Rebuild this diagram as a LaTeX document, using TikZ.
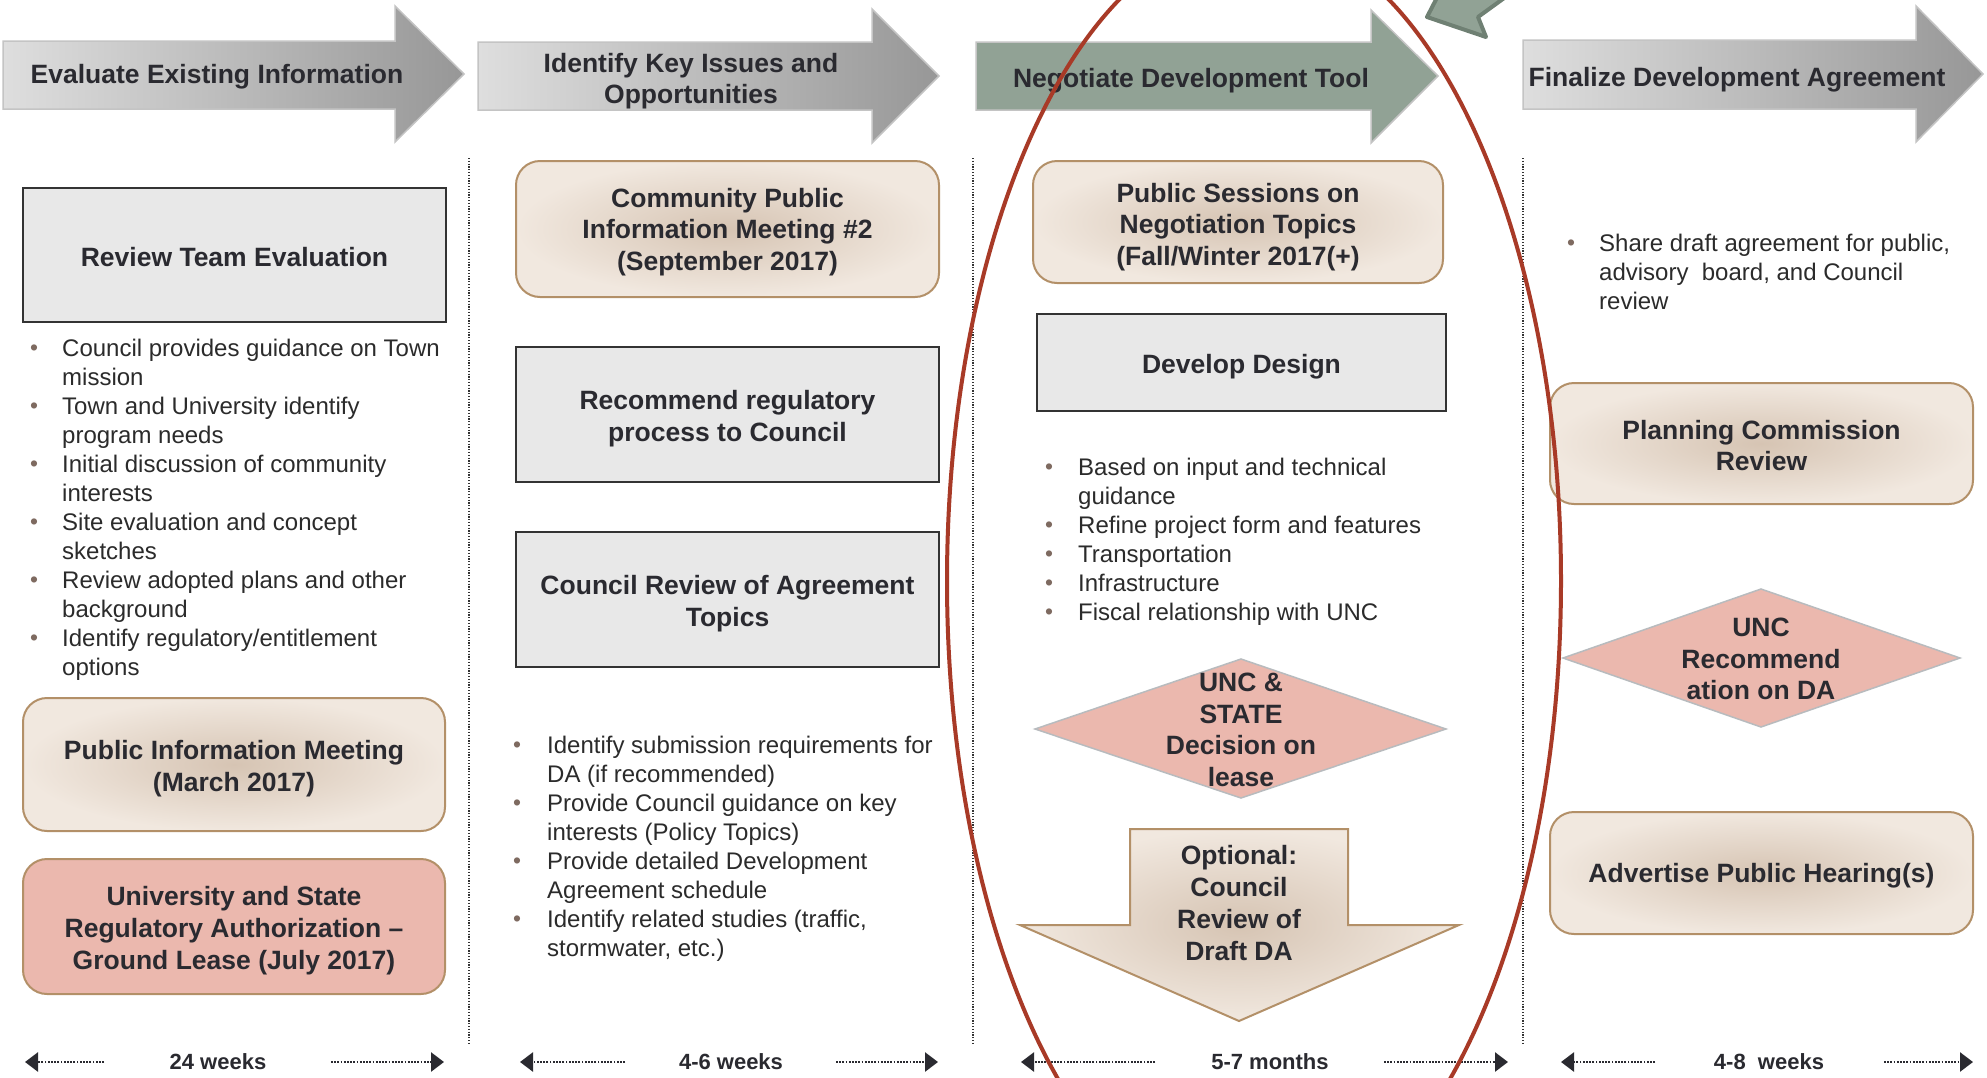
\documentclass[tikz,border=0pt]{standalone}
\usepackage{fontspec}
\setmainfont{Liberation Sans}
\usetikzlibrary{arrows.meta}
\definecolor{txt}{HTML}{2A2A30}
\definecolor{body}{HTML}{2B2B2B}
\definecolor{bulc}{HTML}{7E6A60}
\definecolor{grayfill}{HTML}{E8E8E8}
\definecolor{grayline}{HTML}{333333}
\definecolor{beigein}{HTML}{D6C4B3}
\definecolor{beigeout}{HTML}{F1E8DF}
\definecolor{beigeline}{HTML}{B39068}
\definecolor{pinkfill}{HTML}{EBB8AE}
\definecolor{diamline}{HTML}{B8BBBE}
\definecolor{hl}{HTML}{DEDEDE}
\definecolor{hr}{HTML}{979797}
\definecolor{hborder}{HTML}{C4C4C4}
\definecolor{greenfill}{HTML}{91A295}
\definecolor{greenline}{HTML}{6F8073}
\definecolor{ellred}{HTML}{A83A27}
\definecolor{tlc}{HTML}{2A2A30}
\newcommand{\bsym}{\textcolor{bulc}{\raisebox{0.5pt}{\scalebox{0.95}{•}}}}
\begin{document}
\begin{tikzpicture}[x=1pt,y=-1pt,
  bfont/.style={font=\fontsize{26.5}{31.7}\selectfont\bfseries, text=txt, align=center},
  graybox/.style={draw=grayline, line width=2.5pt, fill=grayfill, inner sep=0pt},
  beigebox/.style={draw=beigeline, line width=2pt, rounded corners=24pt, inner color=beigein, outer color=beigeout, inner sep=0pt},
  pinkbox/.style={draw=beigeline, line width=2pt, rounded corners=24pt, fill=pinkfill, inner sep=0pt},
  hdr/.style={left color=hl, right color=hr, draw=hborder, line width=1.5pt},
  hdrtext/.style={font=\fontsize{26.5}{31.7}\selectfont\bfseries, text=txt, align=center},
  bullets/.style={font=\fontsize{24}{29}\selectfont, text=body, inner sep=0pt, anchor=base west},
  sep/.style={draw=grayline, line width=1.2pt, dash pattern=on 1.2pt off 1.6pt},
  tl/.style={draw=tlc, line width=2.6pt, dash pattern=on 1.8pt off 1.4pt, -{Triangle[length=13pt,width=19pt]}},
  tltext/.style={font=\fontsize{22}{26}\selectfont\bfseries, text=txt},
  diam/.style={fill=pinkfill, draw=diamline, line width=1.5pt},
  downarr/.style={inner color=beigein, outer color=beigeout, draw=beigeline, line width=2pt}
]
\useasboundingbox (0,0) rectangle (1987,1077);
\clip (0,0) rectangle (1987,1077);
\fill[white] (0,0) rectangle (1987,1077);

% ---------- header arrows ----------
\shade[hdr] (3,41) -- (395,41) -- (395,6) -- (464,74) -- (395,142) -- (395,109) -- (3,109) -- cycle;
\node[hdrtext] (h1) at (217,77) {Evaluate Existing Information};
\shade[hdr] (478,42) -- (872,42) -- (872,9) -- (939,76) -- (872,143) -- (872,110) -- (478,110) -- cycle;
\node[hdrtext] (h2) at (691,81) {Identify Key Issues and\\Opportunities};
\filldraw[fill=greenfill, draw=hborder, line width=1.5pt] (976,42) -- (1371,42) -- (1371,10) -- (1438,76) -- (1371,143) -- (1371,110) -- (976,110) -- cycle;
\node[hdrtext] (h3) at (1191,81) {Negotiate Development Tool};
\shade[hdr] (1523,40) -- (1916,40) -- (1916,6) -- (1983,74) -- (1916,142) -- (1916,109) -- (1523,109) -- cycle;
\node[hdrtext] (h4) at (1737,80) {Finalize Development Agreement};

% partial green arrow at top
\filldraw[fill=greenfill, draw=greenline, line width=4pt, line join=round]
  (1442,-12) -- (1427,17) -- (1486,37) -- (1478,17) -- (1518,-12) -- cycle;

% ---------- separators ----------
\coordinate (s1a) at (469,158); \coordinate (s1b) at (469,1045);
\coordinate (s2a) at (973,158); \coordinate (s2b) at (973,1045);
\coordinate (s3a) at (1523,158); \coordinate (s3b) at (1523,1045);
\draw[sep] (s1a) -- (s1b);
\draw[sep] (s2a) -- (s2b);
\draw[sep] (s3a) -- (s3b);

% ---------- column 1 ----------
\node[graybox, minimum width=423pt, minimum height=134pt] (rte) at (234.5,255) {};
\node[bfont] (rte-t) at ([yshift=-2pt]rte.center) {Review Team Evaluation};
\node[bullets] (b1) at (30,356) {\begin{tabular}[t]{@{}p{32pt}@{}l@{}}
\bsym & Council provides guidance on Town\\
 & mission\\
\bsym & Town and University identify\\
 & program needs\\
\bsym & Initial discussion of community\\
 & interests\\
\bsym & Site evaluation and concept\\
 & sketches\\
\bsym & Review adopted plans and other\\
 & background\\
\bsym & Identify regulatory/entitlement\\
 & options
\end{tabular}};
\node[beigebox, minimum width=422pt, minimum height=133pt] (pim) at (234,764.5) {};
\node[bfont] (pim-t) at ([yshift=-4pt]pim.center) {Public Information Meeting\\(March 2017)};
\node[pinkbox, minimum width=422pt, minimum height=135pt] (usr) at (234,926.5) {};
\node[bfont] (usr-t) at ([yshift=-4pt]usr.center) {University and State\\Regulatory Authorization –\\Ground Lease (July 2017)};

% ---------- column 2 ----------
\node[beigebox, minimum width=423pt, minimum height=136pt] (cpim) at (727.5,229) {};
\node[bfont] (cpim-t) at ([yshift=-3pt]cpim.center) {Community Public\\Information Meeting \#2\\(September 2017)};
\node[graybox, minimum width=423pt, minimum height=135pt] (rrp) at (727.5,414.5) {};
\node[bfont] (rrp-t) at ([yshift=-4pt]rrp.center) {Recommend regulatory\\process to Council};
\node[graybox, minimum width=423pt, minimum height=135pt] (crat) at (727.5,599.5) {};
\node[bfont] (crat-t) at ([yshift=-4pt]crat.center) {Council Review of Agreement\\Topics};
\node[bullets] (b2) at (513,753) {\begin{tabular}[t]{@{}p{34pt}@{}l@{}}
\bsym & Identify submission requirements for\\
 & DA (if recommended)\\
\bsym & Provide Council guidance on key\\
 & interests (Policy Topics)\\
\bsym & Provide detailed Development\\
 & Agreement schedule\\
\bsym & Identify related studies (traffic,\\
 & stormwater, etc.)
\end{tabular}};

% ---------- column 3 ----------
\node[beigebox, minimum width=410pt, minimum height=122pt] (psnt) at (1238,222) {};
\node[bfont] (psnt-t) at ([yshift=-5pt]psnt.center) {Public Sessions on\\Negotiation Topics\\(Fall/Winter 2017(+)};
\node[graybox, minimum width=409pt, minimum height=97pt] (dd) at (1241.5,362.5) {};
\node[bfont] (dd-t) at ([yshift=-4pt]dd.center) {Develop Design};
\node[bullets] (b3) at (1045,475) {\begin{tabular}[t]{@{}p{33pt}@{}l@{}}
\bsym & Based on input and technical\\
 & guidance\\
\bsym & Refine project form and features\\
\bsym & Transportation\\
\bsym & Infrastructure\\
\bsym & Fiscal relationship with UNC
\end{tabular}};
\path[diam] (1035,729) -- (1241,659) -- (1446,729) -- (1241,798) -- cycle;
\node[bfont] (unc1) at (1241,730) {UNC \&\\STATE\\Decision on\\lease};
\shade[downarr] (1130,829) -- (1348,829) -- (1348,925) -- (1459,925) -- (1239,1021) -- (1020,925) -- (1130,925) -- cycle;
\node[bfont] (opt) at (1239,903) {Optional:\\Council\\Review of\\Draft DA};

% ---------- column 4 ----------
\node[bullets] (b4) at (1567,251) {\begin{tabular}[t]{@{}p{32pt}@{}l@{}}
\bsym & Share draft agreement for public,\\
 & advisory\ \ board, and Council\\
 & review
\end{tabular}};
\node[beigebox, minimum width=423pt, minimum height=121pt] (pcr) at (1761.5,443.5) {};
\node[bfont] (pcr-t) at ([yshift=-2pt]pcr.center) {Planning Commission\\Review};
\path[diam] (1563,658) -- (1761,589) -- (1960,658) -- (1761,727) -- cycle;
\node[bfont] (unc2) at (1761,659) {UNC\\Recommend\\ation on DA};
\node[beigebox, minimum width=423pt, minimum height=122pt] (aph) at (1761.5,873) {};
\node[bfont] (aph-t) at ([yshift=-3pt]aph.center) {Advertise Public Hearing(s)};

% ---------- timelines ----------
\coordinate (t1a) at (25,1062); \coordinate (t1b) at (104,1062);
\coordinate (t1c) at (331,1062); \coordinate (t1d) at (444,1062);
\node[tltext] (t1) at (218,1062) {24 weeks};
\draw[tl] (t1b) -- (t1a); \draw[tl] (t1c) -- (t1d);

\coordinate (t2a) at (520,1062); \coordinate (t2b) at (625,1062);
\coordinate (t2c) at (836,1062); \coordinate (t2d) at (938,1062);
\node[tltext] (t2) at (731,1062) {4-6 weeks};
\draw[tl] (t2b) -- (t2a); \draw[tl] (t2c) -- (t2d);

\coordinate (t3a) at (1021,1062); \coordinate (t3b) at (1155,1062);
\coordinate (t3c) at (1384,1062); \coordinate (t3d) at (1508,1062);
\node[tltext] (t3) at (1270,1062) {5-7 months};
\draw[tl] (t3b) -- (t3a); \draw[tl] (t3c) -- (t3d);

\coordinate (t4a) at (1561,1062); \coordinate (t4b) at (1655,1062);
\coordinate (t4c) at (1884,1062); \coordinate (t4d) at (1973,1062);
\node[tltext] (t4) at (1769,1062) {4-8\ \ weeks};
\draw[tl] (t4b) -- (t4a); \draw[tl] (t4c) -- (t4d);

% ---------- red ellipse ----------
\coordinate (ec) at (1254,581);
\draw[ellred, line width=4pt] (ec) ellipse [x radius=307, y radius=647];
\end{tikzpicture}
\end{document}
